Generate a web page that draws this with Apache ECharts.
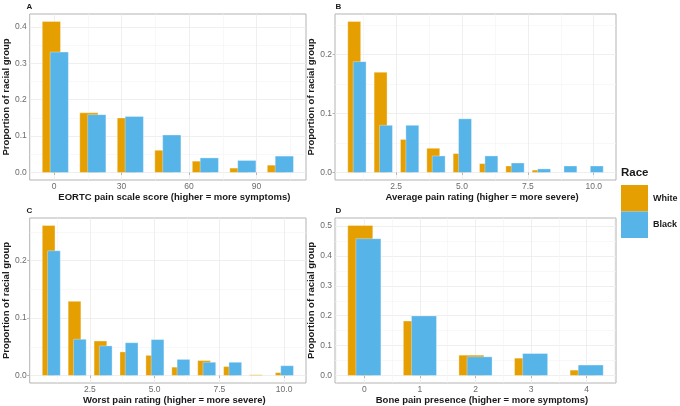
<!DOCTYPE html>
<html><head><meta charset="utf-8">
<script src="https://cdn.jsdelivr.net/npm/echarts@6/dist/echarts.min.js"></script>
<style>html,body{margin:0;padding:0;background:#fff}#c{width:680px;height:406px}</style>
</head><body><div id="c"></div>
<script>
// ---------- DATA ----------
const raceNames = ['White', 'Black'];

// Panel A: EORTC pain scale score
const aX = [0, 16.67, 33.33, 50, 66.67, 83.33, 100];
const aWhite = [0.415, 0.164, 0.150, 0.061, 0.031, 0.012, 0.020];
const aBlack = [0.331, 0.159, 0.154, 0.103, 0.040, 0.033, 0.045];
const aXTicks = [0, 30, 60, 90];
const aYTicks = [0, 0.1, 0.2, 0.3, 0.4];

// Panel B: Average pain rating
const bX = [1, 2, 3, 4, 5, 6, 7, 8, 9, 10];
const bWhite = [0.256, 0.170, 0.056, 0.041, 0.032, 0.015, 0.011, 0.004, 0, 0];
const bBlack = [0.188, 0.080, 0.080, 0.028, 0.091, 0.028, 0.016, 0.006, 0.011, 0.011];
const bXTicks = [2.5, 5.0, 7.5, 10.0];
const bYTicks = [0, 0.1, 0.2];

// Panel C: Worst pain rating
const cX = [1, 2, 3, 4, 5, 6, 7, 8, 9, 10];
const cWhite = [0.261, 0.129, 0.060, 0.041, 0.035, 0.0145, 0.026, 0.0156, 0.0012, 0.005];
const cBlack = [0.217, 0.063, 0.0515, 0.057, 0.0625, 0.028, 0.023, 0.023, 0, 0.017];
const cXTicks = [2.5, 5.0, 7.5, 10.0];
const cYTicks = [0, 0.1, 0.2];

// Panel D: Bone pain presence
const dX = [0, 1, 2, 3, 4];
const dWhite = [0.502, 0.182, 0.068, 0.058, 0.018];
const dBlack = [0.458, 0.1995, 0.0625, 0.0735, 0.035];
const dXTicks = [0, 1, 2, 3, 4];
const dYTicks = [0, 0.1, 0.2, 0.3, 0.4, 0.5];

const xTitles = [
  'EORTC pain scale score (higher = more symptoms)',
  'Average pain rating (higher = more severe)',
  'Worst pain rating (higher = more severe)',
  'Bone pain presence (higher = more symptoms)'
];
const yTitle = 'Proportion of racial group';
const tags = ['A', 'B', 'C', 'D'];

// ---------- LAYOUT / STYLE ----------
const COLORS = ['#E69F00', '#56B4E9'];
const FONT = '"Liberation Sans", Arial, Helvetica, sans-serif';
const panels = [
  {x: aX, w: aWhite, b: aBlack, xt: aXTicks, yt: aYTicks, xfmt: v => String(v),
   grid: {left: 26, top: 14, width: 280, height: 166}, step: 16.667, offW: -0.07, offB: 0.14, bw: 0.486},
  {x: bX, w: bWhite, b: bBlack, xt: bXTicks, yt: bYTicks, xfmt: v => v.toFixed(1),
   grid: {left: 335, top: 14, width: 281, height: 166}, step: 1, offW: -0.09, offB: 0.115, bw: 0.49},
  {x: cX, w: cWhite, b: cBlack, xt: cXTicks, yt: cYTicks, xfmt: v => v.toFixed(1),
   grid: {left: 26, top: 218, width: 280, height: 165}, step: 1, offW: -0.09, offB: 0.115, bw: 0.49},
  {x: dX, w: dWhite, b: dBlack, xt: dXTicks, yt: dYTicks, xfmt: v => String(v),
   grid: {left: 335, top: 218, width: 281, height: 165}, step: 1, offW: -0.073, offB: 0.073, bw: 0.45}
];

function minorOf(ticks, lo, hi) {
  const st = ticks[1] - ticks[0];
  const out = [];
  for (let i = -1; i < ticks.length; i++) {
    const v = ticks[0] + (i + 0.5) * st;
    if (v > lo && v < hi) out.push(+v.toFixed(6));
  }
  return out;
}

const grids = [], xAxes = [], yAxes = [], series = [], graphics = [];
panels.forEach((p, i) => {
  grids.push(Object.assign({show: true, borderColor: '#b3b3b3', borderWidth: 1, backgroundColor: '#fff'}, p.grid));
  // extents (ggplot-style 5% expansion)
  const left = Math.min(...p.x) + (p.offW - p.bw / 2) * p.step;
  const right = Math.max(...p.x) + (p.offB + p.bw / 2) * p.step;
  const xs = right - left;
  const xmin = left - 0.05 * xs, xmax = right + 0.05 * xs;
  const ymaxData = Math.max(...p.w, ...p.b);
  const ymin = -0.05 * ymaxData, ymax = 1.05 * ymaxData;
  p.ext = [xmin, xmax, ymin, ymax];

  xAxes.push({
    type: 'value', gridIndex: i, min: xmin, max: xmax, position: 'bottom',
    axisLine: {show: false},
    axisTick: {show: true, length: 2.5, lineStyle: {color: '#b3b3b3', width: 1}, customValues: p.xt},
    axisLabel: {show: true, customValues: p.xt, formatter: p.xfmt, margin: 2,
      color: '#6b6b6b', fontSize: 8.5, fontFamily: FONT},
    splitLine: {show: true, lineStyle: {color: '#ebebeb', width: 0.8}},
    name: xTitles[i], nameLocation: 'middle', nameGap: 9,
    nameTextStyle: {fontSize: 9.5, fontWeight: 'bold', color: '#1a1a1a', fontFamily: FONT, padding: [0, 0, 0, 13]}
  });
  yAxes.push({
    type: 'value', gridIndex: i, min: ymin, max: ymax,
    axisLine: {show: false},
    axisTick: {show: true, length: 2.5, lineStyle: {color: '#b3b3b3', width: 1}, customValues: p.yt},
    axisLabel: {show: true, customValues: p.yt, formatter: v => v.toFixed(1), margin: 3,
      color: '#6b6b6b', fontSize: 8.5, fontFamily: FONT},
    splitLine: {show: true, lineStyle: {color: '#ebebeb', width: 0.8}},
    name: yTitle, nameLocation: 'middle', nameGap: 14, nameRotate: 90,
    nameTextStyle: {fontSize: 9.5, fontWeight: 'bold', color: '#1a1a1a', fontFamily: FONT}
  });
  [0, 1].forEach(k => {
    const vals = k === 0 ? p.w : p.b;
    const off = (k === 0 ? p.offW : p.offB) * p.step;
    const hw = p.bw * p.step / 2;
    series.push({
      type: 'custom', name: raceNames[k], xAxisIndex: i, yAxisIndex: i,
      itemStyle: {color: COLORS[k]}, silent: true, z: 2 + k,
      data: p.x.map((x, j) => [x, vals[j]]),
      encode: {x: 0, y: 1},
      renderItem: (params, api) => {
        const x = api.value(0), y = api.value(1);
        if (!(y > 0)) return null;
        const p0 = api.coord([x + off - hw, y]);
        const p1 = api.coord([x + off + hw, 0]);
        return {type: 'rect', shape: {x: p0[0], y: p0[1], width: p1[0] - p0[0], height: p1[1] - p0[1]},
          style: {fill: COLORS[k], stroke: 'rgba(255,255,255,0.4)', lineWidth: 0.8}};
      }
    });
  });
  graphics.push({type: 'text', left: p.grid.left + 0.5, top: p.grid.top - 11,
    style: {text: tags[i], font: 'bold 8px ' + FONT, fill: '#1a1a1a'}});
});
// minor grid lines via secondary axes
panels.forEach((p, i) => {
  const [xmin, xmax, ymin, ymax] = p.ext;
  const mx = minorOf(p.xt, xmin, xmax), my = minorOf(p.yt, ymin, ymax);
  xAxes.push({type: 'value', gridIndex: i, min: xmin, max: xmax, position: 'top',
    axisLine: {show: false}, axisTick: {show: false, customValues: mx}, axisLabel: {show: false, customValues: mx},
    splitLine: {show: true, lineStyle: {color: '#f4f4f4', width: 0.6}}});
  yAxes.push({type: 'value', gridIndex: i, min: ymin, max: ymax, position: 'right',
    axisLine: {show: false}, axisTick: {show: false, customValues: my}, axisLabel: {show: false, customValues: my},
    splitLine: {show: true, lineStyle: {color: '#f4f4f4', width: 0.6}}});
});

graphics.push({type: 'text', left: 621, top: 167,
  style: {text: 'Race', font: 'bold 11.5px ' + FONT, fill: '#1a1a1a'}});

const chart = echarts.init(document.getElementById('c'), null, {renderer: 'canvas'});
chart.setOption({
  animation: false,
  backgroundColor: '#fff',
  grid: grids, xAxis: xAxes, yAxis: yAxes, series: series,
  legend: {data: raceNames, orient: 'vertical', left: 621, top: 185, itemWidth: 27, itemHeight: 26.5,
    itemGap: 0, icon: 'rect', selectedMode: false, padding: 0,
    textStyle: {fontSize: 9, fontWeight: 'bold', color: '#1a1a1a', fontFamily: FONT}},
  graphic: graphics
});
</script></body></html>
